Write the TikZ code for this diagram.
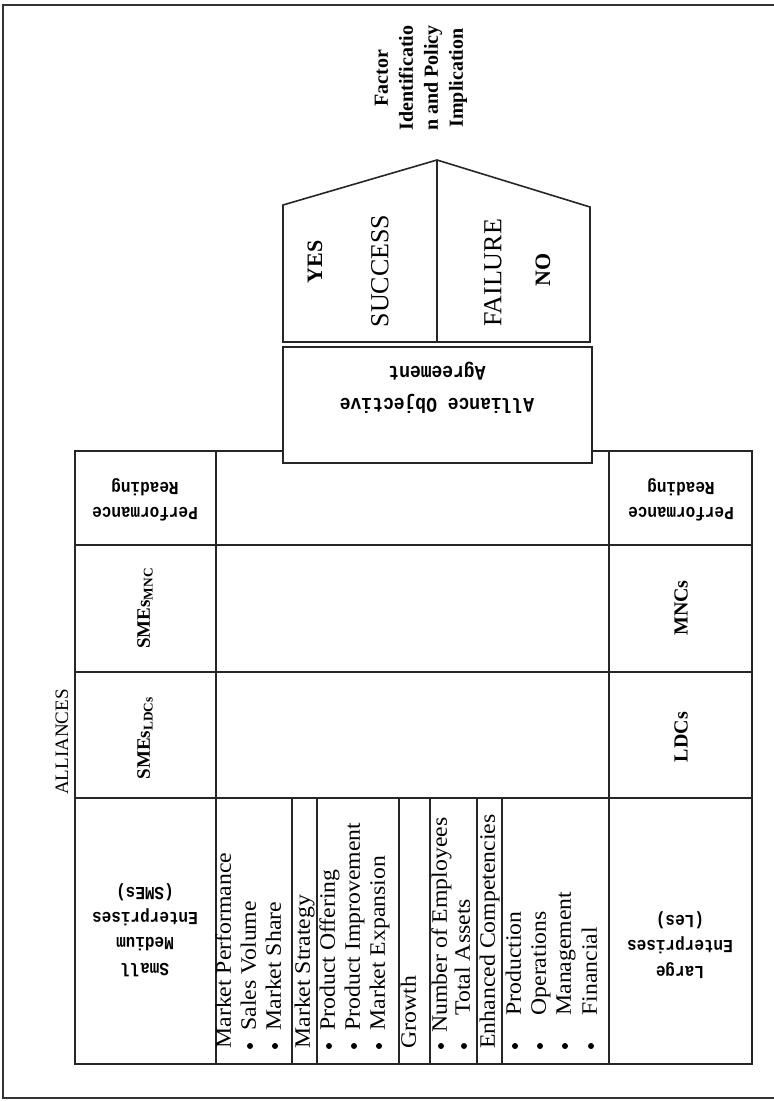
\documentclass[tikz,border=0pt]{standalone}
\usepackage{fontspec}
\setmainfont{Liberation Serif}
\newfontfamily\typefont{Liberation Mono}
\tikzset{
  frame/.style={line width=1pt, draw=black!80},
  grid/.style={line width=0.8pt, draw=black!85},
  uptext/.style={rotate=90, inner sep=0pt, align=center},
  flipped/.style={rotate=180, yscale=1.15, inner sep=0pt, align=center,
                  font=\typefont\bfseries\fontsize{8}{11}\selectfont},
  listline/.style={rotate=90, xscale=1.08, anchor=west, inner sep=0pt,
                   text height=1.6ex, text depth=.3ex, font=\fontsize{11}{12}\selectfont},
  bulletdot/.style={circle, fill=black, inner sep=0pt, minimum size=3pt}
}
\begin{document}
\begin{tikzpicture}[x=0.5pt, y=-0.5pt]
\useasboundingbox (0,0) rectangle (774,1101);
\draw[frame] (774,5) -- (3,5) -- (3,1098) -- (774,1098);
% table
\draw[grid] (75,451) rectangle (752,1064);
\foreach \py in {545,672,798} \draw[grid] (75,\py) -- (752,\py);
\foreach \px in {216,609} \draw[grid] (\px,451) -- (\px,1064);
\foreach \px in {292,317,399,430,477,502} \draw[grid] (\px,798) -- (\px,1064);
% house and agreement box
\draw[grid] (283,342) -- (283,205) -- (437,160) -- (590,207) -- (590,342) -- cycle;
\draw[grid] (437,160) -- (437,342);
\draw[grid, fill=white] (283,347) rectangle (592,463);

\node[flipped, font=\typefont\bfseries\fontsize{9}{14}\selectfont] (agree) at (437,388) {Alliance Objective\\Agreement};
\node[uptext, font=\bfseries\fontsize{11}{13}\selectfont] (yes) at (315,262) {YES};
\node[uptext, font=\fontsize{13}{15}\selectfont] (success) at (380,271) {SUCCESS};
\node[uptext, font=\fontsize{13}{15}\selectfont] (failure) at (493,273) {FAILURE};
\node[uptext, font=\bfseries\fontsize{11}{13}\selectfont] (no) at (543,270) {NO};
\node[uptext, font=\bfseries\fontsize{10}{12.5}\selectfont] (factor) at (421,78)
  {Factor\\Identificatio\\n and Policy\\Implication};

\node[uptext, font=\fontsize{9.5}{11}\selectfont] (alliances) at (62,742) {ALLIANCES};
\node[flipped] (readL) at (145,500) {Performance\\Reading};
\node[flipped] (readR) at (681,500) {Performance\\Reading};
\node[uptext, font=\bfseries\fontsize{9.5}{11}\selectfont] (smeMnc) at (145,608) {SMEs\textsubscript{MNC}};
\node[uptext, font=\bfseries\fontsize{9.5}{11}\selectfont] (smeLdc) at (145,738) {SMEs\textsubscript{LDCs}};
\node[uptext, font=\bfseries\fontsize{10}{11}\selectfont] (mnc) at (681,608) {MNCs};
\node[uptext, font=\bfseries\fontsize{10}{11}\selectfont] (ldc) at (681,737) {LDCs};
\node[flipped] (smes) at (145,930) {Small\\Medium\\Enterprises\\(SMEs)};
\node[flipped] (les) at (680,945) {Large\\Enterprises\\(Les)};

% indicator list
\foreach \px/\txt [count=\i] in {225/Market Performance, 304/Market Strategy,
    410/Growth, 489/Enhanced Competencies}
  \node[listline] (head\i) at (\px,1049) {\txt};
\foreach \px/\py/\txt [count=\i] in {250/1031/Sales Volume, 275/1031/Market Share,
    329/1031/Product Offering, 354/1031/Product Improvement, 379/1031/Market Expansion,
    441/1033/Number of Employees, 464/1016/Total Assets, 515/1016/Production,
    540/1016/Operations, 565/1016/Management, 591/1016/Financial}
{
  \node[bulletdot] (dot\i) at (\px,1046) {};
  \node[listline] (item\i) at (\px,\py) {\txt};
}
\end{tikzpicture}
\end{document}
